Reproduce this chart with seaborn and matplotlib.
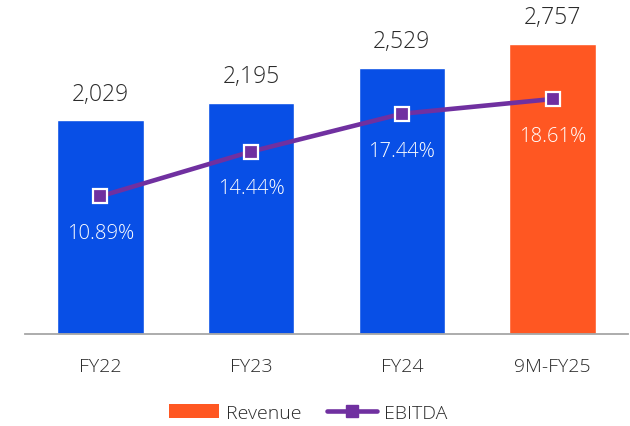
import matplotlib
matplotlib.use("Agg")
import matplotlib.pyplot as plt
import seaborn as sns
import numpy as np
from matplotlib.patches import Patch
from matplotlib.lines import Line2D

categories = ["FY22", "FY23", "FY24", "9M-FY25"]
revenue = [2029, 2195, 2529, 2757]
ebitda_margin = [10.89, 14.44, 17.44, 18.61]
revenue_labels = ["2,029", "2,195", "2,529", "2,757"]
ebitda_labels = ["10.89%", "14.44%", "17.44%", "18.61%"]

BLUE = "#084FE6"
ORANGE = "#FF5722"
PURPLE = "#7030A0"
TEXT = "#2B2B2B"

sns.set_theme(style="white")
plt.rcParams["font.family"] = ["Open Sans", "DejaVu Sans"]

fig = plt.figure(figsize=(6.3, 4.27), dpi=100)
ax = fig.add_axes([25 / 630, 92.5 / 427, 603 / 630, 315 / 427])

palette = [BLUE, BLUE, BLUE, ORANGE]
sns.barplot(x=categories, y=revenue, hue=categories, palette=palette,
            legend=False, width=0.575, saturation=1, ax=ax)
ax.set_ylim(0, 3000)
ax.set_xlim(-0.5, 3.5)
ax.set_yticks([])
ax.set_ylabel("")
ax.set_xlabel("")
for s in ["top", "right", "left"]:
    ax.spines[s].set_visible(False)
ax.spines["bottom"].set_color("#A6A6A6")
ax.spines["bottom"].set_linewidth(1.3)
ax.tick_params(axis="x", length=0, pad=17, labelsize=14, labelcolor=TEXT)
for t in ax.get_xticklabels():
    t.set_fontweight("light")

for i, (v, lab) in enumerate(zip(revenue, revenue_labels)):
    ax.annotate(lab, (i, v), xytext=(0, 10.5), textcoords="offset points",
                ha="center", va="bottom", fontsize=16.5, color=TEXT,
                fontweight="light")

ax2 = ax.twinx()
x_pos = np.arange(len(categories))
sns.lineplot(x=x_pos, y=ebitda_margin, ax=ax2, color=PURPLE, linewidth=3.3,
             marker="s", markersize=10, markerfacecolor=PURPLE,
             markeredgecolor="white", markeredgewidth=1.6)
ax2.set_ylim(0, 25)
ax2.set_yticks([])
for s in ["top", "right", "left", "bottom"]:
    ax2.spines[s].set_visible(False)

for i, (v, lab) in enumerate(zip(ebitda_margin, ebitda_labels)):
    ax2.annotate(lab, (i, v), xytext=(0, -26.5), textcoords="offset points",
                 ha="center", va="center", fontsize=14.5, color="white",
                 fontweight="light")

handles = [Patch(facecolor=ORANGE, edgecolor="none"),
           Line2D([0], [0], color=PURPLE, linewidth=3.3, marker="s",
                  markersize=9, markerfacecolor=PURPLE,
                  markeredgecolor=PURPLE)]
leg = fig.legend(handles, ["Revenue", "EBITDA"], loc="center",
                 bbox_to_anchor=(308 / 630, 1 - 414 / 427), ncol=2,
                 frameon=False, fontsize=14, handlelength=2.6,
                 handleheight=0.7, handletextpad=0.35, columnspacing=1.3,
                 labelcolor=TEXT)
for t in leg.get_texts():
    t.set_fontweight("light")

fig.savefig("out.png", dpi=100)
